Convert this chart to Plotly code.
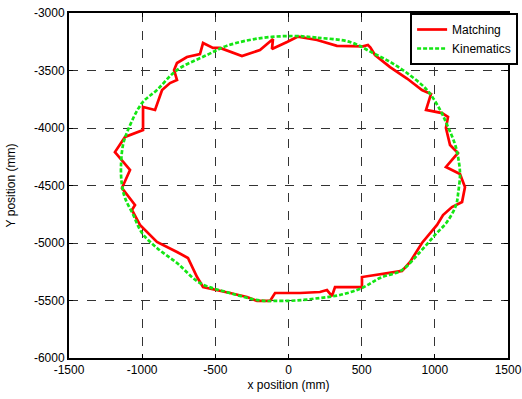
import plotly.graph_objects as go

# Matching (red) path, clockwise from the top
match_x = [65, 195, 331, 420, 510, 543, 560, 591, 694, 810, 912, 974, 940, 1049, 1090, 1076,
           1104, 1158, 1076, 1172, 1206, 1186, 1117, 1056, 1015, 912, 831, 776, 605, 502, 502,
           318, 297, 263, 215, 79, -92, -126, -215, -284, -400, -502, -584, -625, -687, -762,
           -899, -1015, -1070, -1049, -1138, -1083, -1186, -1117, -994, -994, -947, -912, -864,
           -810, -762, -782, -762, -694, -605, -584, -516, -468, -318, -195, -106, -113, -10, 65]
match_y = [-3205, -3235, -3285, -3290, -3290, -3278, -3300, -3365, -3470, -3570, -3670, -3704,
           -3843, -3870, -3904, -4000, -4148, -4217, -4339, -4400, -4513, -4644, -4687, -4757,
           -4843, -5000, -5165, -5243, -5278, -5296, -5383, -5383, -5461, -5409, -5426, -5435,
           -5435, -5504, -5504, -5470, -5435, -5409, -5383, -5296, -5130, -5078, -4991, -4843,
           -4713, -4670, -4522, -4365, -4209, -4078, -4017, -3817, -3835, -3843, -3670, -3609,
           -3583, -3496, -3435, -3383, -3357, -3261, -3304, -3304, -3374, -3322, -3226, -3313,
           -3252, -3205]

# Kinematics (green) path
kin_x = [30, 200, 420, 577, 700, 810, 947, 1036, 1090, 1140, 1165, 1172, 1160, 1145, 1083, 1001,
         899, 776, 625, 502, 352, 215, 50, -100, -195, -400, -605, -762, -899, -1001, -1063,
         -1117, -1138, -1145, -1131, -1097, -1001, -899, -762, -557, -420, -200, 30]
kin_y = [-3200, -3215, -3252, -3348, -3430, -3522, -3670, -3843, -3990, -4150, -4300, -4409,
         -4560, -4670, -4817, -4930, -5078, -5235, -5304, -5391, -5452, -5478, -5500, -5504,
         -5500, -5435, -5348, -5174, -5043, -4913, -4750, -4609, -4496, -4350, -4148, -4017,
         -3783, -3670, -3496, -3365, -3285, -3220, -3200]

x_ticks = [-1500, -1000, -500, 0, 500, 1000, 1500]
y_ticks = [-3000, -3500, -4000, -4500, -5000, -5500, -6000]
x_labels = [str(v) for v in x_ticks]
y_labels = [str(v) for v in y_ticks]

font_family = "Liberation Sans, Arial, sans-serif"

fig = go.Figure()
fig.add_trace(go.Scatter(x=match_x, y=match_y, mode="lines", name="Matching",
                         line=dict(color="rgb(255,0,0)", width=2.7)))
fig.add_trace(go.Scatter(x=kin_x, y=kin_y, mode="lines", name="Kinematics",
                         line=dict(color="rgb(20,230,20)", width=2.7, dash="4px,2px", shape="spline")))

axis_common = dict(showline=True, linecolor="black", linewidth=2, mirror="ticks",
                   ticks="inside", ticklen=4, tickcolor="black",
                   showgrid=True, gridcolor="#333", gridwidth=1, griddash="dash",
                   zeroline=False, automargin=False, ticklabeloverflow="allow",
                   tickfont=dict(family=font_family, size=12, color="black"))

fig.update_xaxes(range=[-1500, 1500], tickvals=x_ticks, ticktext=x_labels, **axis_common,
                 title=dict(text="x position (mm)", font=dict(family=font_family, size=12, color="black"),
                            standoff=4))
fig.update_yaxes(range=[-6000, -3000], tickvals=y_ticks, ticktext=y_labels, **axis_common,
                 title=dict(text="Y position (mm)", font=dict(family=font_family, size=12, color="black"),
                            standoff=16))

fig.update_layout(
    width=522, height=399,
    margin=dict(l=69, r=14, t=13, b=41, autoexpand=False),
    plot_bgcolor="white", paper_bgcolor="white",
    showlegend=True,
    legend=dict(x=1.023, xanchor="right", y=1.0, yanchor="top",
                bgcolor="white", bordercolor="black", borderwidth=2,
                font=dict(family=font_family, size=12, color="black"),
                tracegroupgap=0, itemwidth=30),
)

fig.write_html("out.html", config={"displayModeBar": False},
               post_script="document.body.style.margin='0';")
